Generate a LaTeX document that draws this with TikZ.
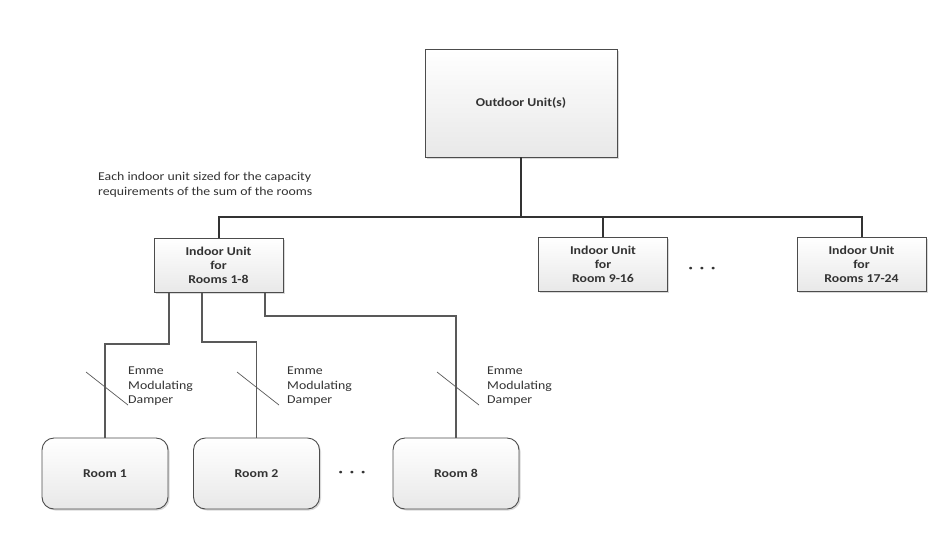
\documentclass[tikz,border=0pt]{standalone}
\usepackage{fontspec}
\setmainfont{Carlito}[FakeStretch=1.15]
\usetikzlibrary{positioning,shadows}

\tikzset{
    unit/.style={draw=gray!60!black, line width=0.9pt, top color=white, bottom color=gray!18,
        drop shadow={shadow xshift=1.5pt, shadow yshift=-1.5pt, fill=gray!50, opacity=0.6},
        font=\fontsize{12}{14}\selectfont\bfseries, text=black!80, align=center, inner sep=0pt},
    indoor/.style={unit, minimum width=129pt, minimum height=54pt},
    room/.style={unit, rounded corners=12pt, minimum width=126pt, minimum height=71pt},
    bus/.style={draw=black!80, line width=2pt},
    pipe/.style={draw=gray!70!black, line width=1.1pt},
    damper/.style={draw=gray!70!black, line width=0.7pt},
    note/.style={align=left, inner sep=0pt, text=black!80, font=\fontsize{12}{14.5}\selectfont},
    dots/.style={inner sep=0pt, text=black!80, font=\fontsize{14}{14}\selectfont\bfseries}
}

\begin{document}
\begin{tikzpicture}[x=1pt, y=-1pt]
    \useasboundingbox (0,0) rectangle (950,550);
    % units
    \node[unit, minimum width=192pt, minimum height=108pt] (out) at (521,103) {Outdoor Unit(s)};
    \node[indoor] (in1) at (218.5,265.5) {Indoor Unit\\for\\Rooms 1-8};
    \node[indoor] (in2) at (603,264.5) {Indoor Unit\\for\\Room 9-16};
    \node[indoor] (in3) at (861.5,264.5) {Indoor Unit\\for\\Rooms 17-24};
    \node[dots] (d1) at (702,270) {·\hspace{7pt}·\hspace{7pt}·};
    \node[note, anchor=north west] (txt) at (98,172) {Each indoor unit sized for the capacity\\requirements of the sum of the rooms};
    % rooms
    \node[room] (r1) at (105,473.5) {Room 1};
    \node[room] (r2) at (256.5,473.5) {Room 2};
    \node[room] (r8) at (456,473.5) {Room 8};
    \node[dots] (d2) at (352,474) {·\hspace{7pt}·\hspace{7pt}·};
    % main line
    \draw[bus] (out.south) -- ++(0,60) coordinate (bm);
    \draw[bus] (in1.north) |- (bm) -| (in3.north);
    \draw[bus] (in2.north) -- (in2.north |- bm);
    % branches
    \draw[pipe] ([xshift=-49.5pt]in1.south) -- ++(0,51) -| (r1.north);
    \draw[pipe] ([xshift=-16.5pt]in1.south) -- ++(0,49) -| (r2.north);
    \draw[pipe] ([xshift=46.5pt]in1.south) -- ++(0,23) -| (r8.north);
    % dampers
    \foreach \x/\lx/\n in {106/128/1, 257/287/2, 457/487/3} {
        \draw[damper] (\x-20,372) -- (\x+22,405);
        \node[note, anchor=north west] (dmp\n) at (\lx,367) {Emme\\Modulating\\Damper};
    }
\end{tikzpicture}
\end{document}
